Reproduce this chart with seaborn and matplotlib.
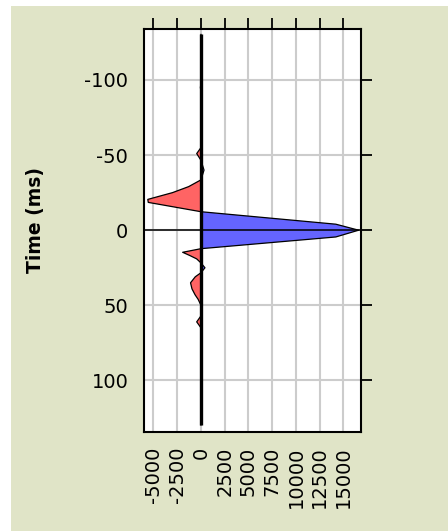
import matplotlib
matplotlib.use("Agg")
import matplotlib.pyplot as plt
from matplotlib.patches import Rectangle
import numpy as np
import pandas as pd
import seaborn as sns

# Wavelet trace: sample times (ms) and amplitudes at those samples
time_ms = [-130.4, -98, -95, -92, -55, -51, -46.5, -40, -33.5, -29, -25,
           -20.5, -18.5, -12.3, -4, 0, 4.5, 12.3, 14.7, 16.9, 19.1, 21.8,
           25, 28.3, 31, 35, 39, 43, 46, 50, 57, 61, 65, 70, 74, 78, 129.7]
amplitude = [0, 0, -60, 0, 0, -450, 0, 320, 0, -1300, -3000,
             -5600, -5550, 0, 14200, 16600, 14200, 0, -1930, -1160, -450, 0,
             420, 0, -600, -1100, -950, -620, -300, 0, 0, -450, 0, 0, 120, 0, 0]

x_ticks = [-5000, -2500, 0, 2500, 5000, 7500, 10000, 12500, 15000]
x_tick_labels = ["-5000", "-2500", "0", "2500", "5000", "7500",
                 "10000", "12500", "15000"]
y_ticks = [-100, -50, 0, 50, 100]
y_tick_labels = ["-100", "-50", "0", "50", "100"]

sns.set_theme(style="white")
plt.rcParams["font.family"] = ["DejaVu Sans"]
plt.rcParams["axes.unicode_minus"] = False

W, H = 448, 531
fig = plt.figure(figsize=(W / 100, H / 100), dpi=100)
fig.patch.set_facecolor("white")
fig.patches.append(Rectangle((11 / W, 0), 1 - 11 / W, 1 - 6 / H,
                             transform=fig.transFigure, facecolor="#e0e4c7",
                             edgecolor="none", zorder=-1))

ax = fig.add_axes([144 / W, 1 - 432 / H, 217 / W, 403 / H])
ax.set_facecolor("white")

df = pd.DataFrame({"time": time_ms, "amp": amplitude})

# Variable-area fill: positive lobes blue, negative lobes red
amp = df["amp"].to_numpy()
ax.fill_betweenx(df["time"], 0, amp, where=amp >= 0, interpolate=True,
                 color="#6464ff", lw=0, zorder=1.5)
ax.fill_betweenx(df["time"], 0, amp, where=amp <= 0, interpolate=True,
                 color="#ff6464", lw=0, zorder=1.5)

sns.lineplot(data=df, x="amp", y="time", orient="y", sort=False,
             estimator=None, color="black", lw=0.9, ax=ax, zorder=2)

# Trace baseline and zero-time line
ax.plot([0, 0], [time_ms[0], time_ms[-1]], color="black", lw=2.4,
        solid_capstyle="butt", zorder=3)
ax.axhline(0, color="black", lw=1.1, zorder=3)

ax.set_xlim(-6000, 16850)
ax.set_ylim(134.3, -133.9)

ax.set_xticks(x_ticks)
ax.set_xticklabels(x_tick_labels, rotation=90, va="top")
ax.set_yticks(y_ticks)
ax.set_yticklabels(y_tick_labels)
ax.tick_params(axis="both", direction="out", length=7.7, width=1.3,
               color="black", labelsize=14, labelcolor="black",
               top=True, right=True, labeltop=False, labelright=False)
ax.tick_params(axis="x", pad=2.9)
ax.tick_params(axis="y", pad=3.6)

ax.grid(True, color="#cccccc", lw=1.5)
ax.set_axisbelow(True)
for s in ax.spines.values():
    s.set_visible(True)
    s.set_color("black")
    s.set_linewidth(1.5)

ax.set_xlabel("")
ax.set_ylabel("Time (ms)", fontsize=13.5, fontweight="bold", color="black")
ax.yaxis.set_label_coords(-0.454, 0.527)

fig.savefig("out.png", dpi=100, facecolor=fig.get_facecolor())
